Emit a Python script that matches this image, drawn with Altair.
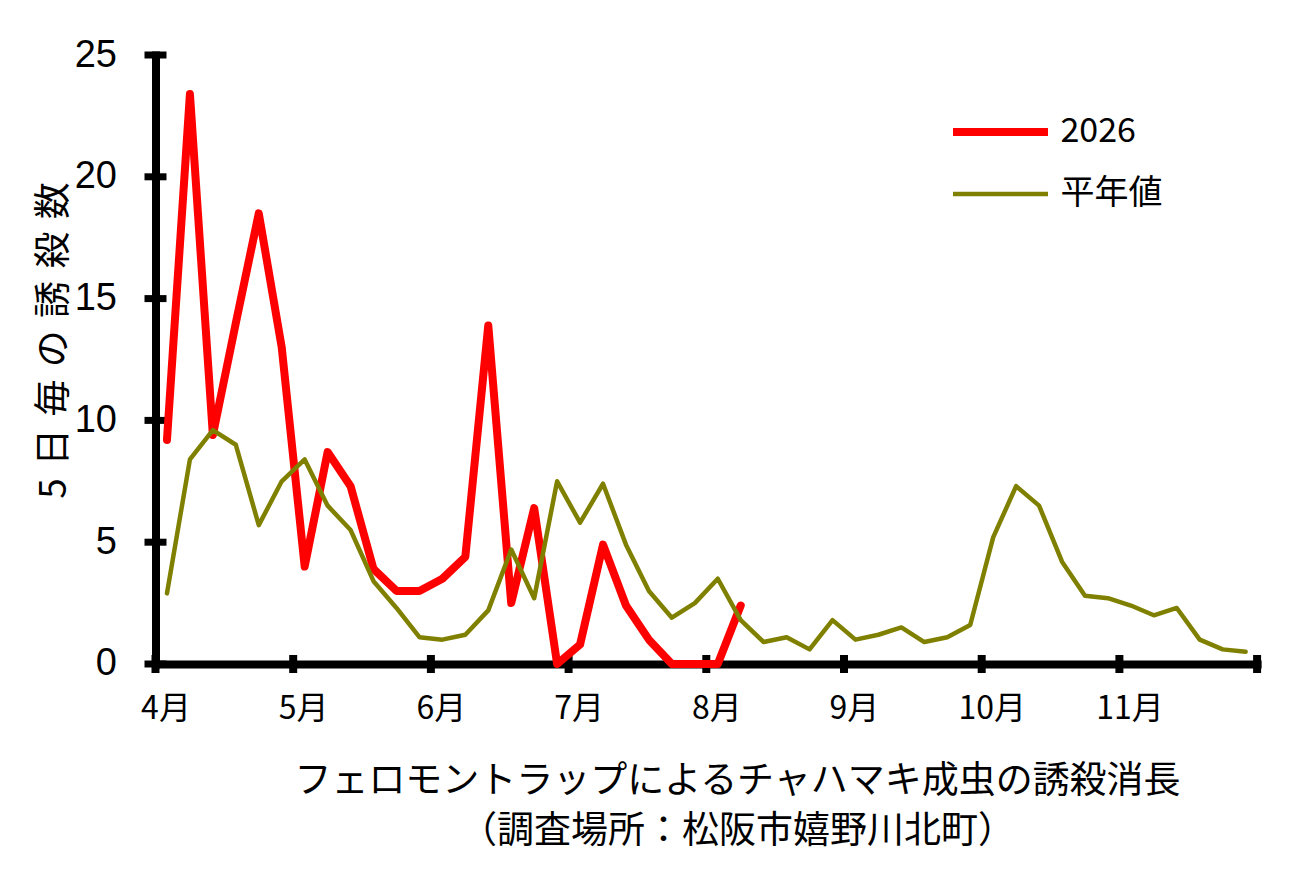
import altair as alt
import pandas as pd

# ---- data (5-day pentads, 6 per month, Apr-Nov) ----
series_names = ["2026", "平年値"]
series_colors = ["#FF0000", "#808000"]
series_widths = [8, 4.5]

values_2026 = [9.2, 23.4, 9.4, 14.0, 18.5, 13.0, 4.0, 8.7, 7.3, 3.9,
               3.0, 3.0, 3.5, 4.4, 13.9, 2.5, 6.4, 0.0, 0.8, 4.9,
               2.4, 1.0, 0.0, 0.0, 0.0, 2.4]
values_normal = [2.9, 8.4, 9.6, 9.0, 5.7, 7.5, 8.4, 6.5, 5.5, 3.4,
                 2.3, 1.1, 1.0, 1.2, 2.2, 4.7, 2.7, 7.5, 5.8, 7.4,
                 4.9, 3.0, 1.9, 2.5, 3.5, 1.8, 0.9, 1.1, 0.6, 1.8,
                 1.0, 1.2, 1.5, 0.9, 1.1, 1.6, 5.2, 7.3, 6.5, 4.2,
                 2.8, 2.7, 2.4, 2.0, 2.3, 1.0, 0.6, 0.5]

month_labels = ["4月", "5月", "6月", "7月", "8月", "9月", "10月", "11月"]
month_ticks = [0, 6, 12, 18, 24, 30, 36, 42, 48]
y_ticks = [0, 5, 10, 15, 20, 25]

y_title = "\u2004".join(list("5日毎の誘殺数"))
x_title = ["フェロモントラップによるチャハマキ成虫の誘殺消長",
           "（調査場所：松阪市嬉野川北町）"]

# ---- tables ----
rows = []
for i, v in enumerate(values_2026):
    rows.append({"pentad": i, "series": series_names[0], "count": v})
for i, v in enumerate(values_normal):
    rows.append({"pentad": i, "series": series_names[1], "count": v})
df = pd.DataFrame(rows)
df["xpos"] = df["pentad"] + 0.5

xticks_df = pd.DataFrame({"xpos": month_ticks, "count": [0] * len(month_ticks)})
yticks_df = pd.DataFrame({"xpos": [0] * len(y_ticks), "count": y_ticks})

W = 1101.6
H = 609
CJK = "Noto Sans CJK JP"

label_js = "[" + ",".join("'" + m + "'" for m in month_labels) + "]"

xscale = alt.Scale(domain=[0, 48], nice=False, zero=False)
yscale = alt.Scale(domain=[0, 25], nice=False)

x_axis = alt.Axis(
    values=month_ticks, ticks=False, tickSize=0, grid=False,
    domainWidth=8, domainColor="black", domainCap="square",
    labelExpr="datum.value < 48 ? " + label_js + "[round(datum.value/6)] : ''",
    labelOffset=10, labelPadding=45, labelBaseline="middle",
    labelFont=CJK, labelFontSize=32, labelColor="black",
    labelFlush=False, labelOverlap=False,
    title=x_title, titleFont=CJK, titleFontSize=37, titleFontWeight="normal",
    titleColor="black", titleLineHeight=50.5, titleX=581.5, titleY=128.5,
    titleAlign="center", titleBaseline="alphabetic",
)
y_axis = alt.Axis(
    values=y_ticks, ticks=False, tickSize=0, grid=False,
    domainWidth=8, domainColor="black", domainCap="square",
    labelPadding=39, labelBaseline="middle", labelAlign="right",
    labelFont="Liberation Sans", labelFontSize=38, labelColor="black",
    labelFlush=False, labelOverlap=False,
    title=y_title, titleFont=CJK, titleFontSize=37, titleFontWeight="normal",
    titleColor="black", titleAngle=270, titleX=-90, titleY=285,
    titleAlign="center", titleBaseline="alphabetic",
)

x_enc = alt.X("xpos:Q", scale=xscale, axis=x_axis)
y_enc = alt.Y("count:Q", scale=yscale, axis=y_axis)

legend = alt.Legend(
    orient="none", legendX=828, legendY=60, title=None,
    symbolType="M-4,0L4,0", symbolSize=564, labelOffset=43, rowPadding=28,
    labelFontSize=34, labelFont=CJK, labelColor="black", padding=0,
    labelLimit=300,
)
color_enc = alt.Color("series:N", scale=alt.Scale(domain=series_names, range=series_colors), legend=legend)
sw_enc = alt.StrokeWidth("series:N", scale=alt.Scale(type="ordinal", domain=series_names, range=series_widths), legend=legend)

base = alt.Chart(df)

red = base.transform_filter(alt.datum.series == series_names[0]).mark_line(
    strokeCap="round", strokeJoin="round"
).encode(x=x_enc, y=y_enc, color=color_enc, strokeWidth=sw_enc)

olive = base.transform_filter(alt.datum.series == series_names[1]).mark_line(
    strokeCap="round", strokeJoin="round"
).encode(x=x_enc, y=y_enc, color=color_enc, strokeWidth=sw_enc)

xt = alt.Chart(xticks_df).mark_tick(orient="vertical", color="black", thickness=8, size=18, opacity=1).encode(
    x=x_enc, y=y_enc)
yt = alt.Chart(yticks_df).mark_tick(orient="horizontal", color="black", thickness=7, size=22, opacity=1).encode(
    x=x_enc, y=y_enc)

chart = alt.layer(xt, yt, red, olive).properties(
    width=W, height=H,
    padding={"left": 147.5, "top": 47, "right": 50, "bottom": 200},
    autosize=alt.AutoSizeParams(type="none"),
    background="white",
).configure_view(strokeWidth=0)

chart.save("out.html", embed_options={"renderer": "svg", "actions": False})
